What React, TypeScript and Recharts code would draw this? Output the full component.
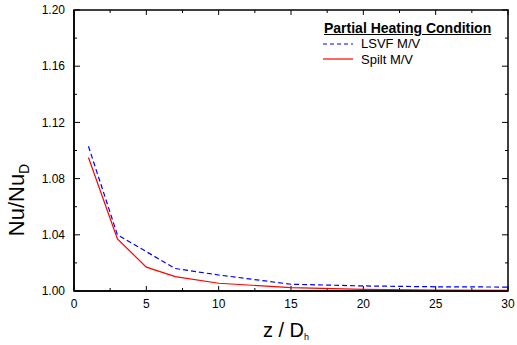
import { Label, Line, LineChart, ReferenceArea, ReferenceLine, XAxis, YAxis } from "recharts";

// z / Dh positions
const zValues = [1, 3, 5, 7, 10, 15, 20, 25, 30];
// Nu/NuD for each configuration
const lsvfValues = [1.103, 1.04, 1.028, 1.016, 1.0114, 1.0048, 1.0036, 1.003, 1.0028];
const splitValues = [1.095, 1.037, 1.017, 1.0102, 1.0055, 1.0024, 1.0012, 1.0007, 1.0005];

const xMajor = [0, 5, 10, 15, 20, 25, 30];
const xMinor = [2.5, 7.5, 12.5, 17.5, 22.5, 27.5];
const yMajor = [1.0, 1.04, 1.08, 1.12, 1.16, 1.2];
const yMinor = [1.02, 1.06, 1.1, 1.14, 1.18];

const legendTitle = "Partial Heating Condition";
const seriesNames = ["LSVF M/V", "Spilt M/V"];
const seriesColors = ["#0000ff", "#ff0000"];

const data = zValues.map((z, i) => ({
  z,
  lsvf: lsvfValues[i],
  split: splitValues[i],
}));

const FONT = "'Liberation Sans', Arial, sans-serif";
const W = 517;
const H = 345;
const MARGIN = { top: 10, right: 9, bottom: 0, left: 0 };
const Y_AXIS_W = 74;
const X_AXIS_H = 54;
const X_DOMAIN: [number, number] = [0, 30];
const Y_DOMAIN: [number, number] = [1.0, 1.2];
const tickStyle = { fill: "#000", fontSize: 12, fontFamily: FONT };
const frame = { stroke: "#000", strokeWidth: 1.5 };

// plot box, same numbers the chart lays itself out with
const box = {
  left: MARGIN.left + Y_AXIS_W,
  right: W - MARGIN.right,
  top: MARGIN.top,
  bottom: H - MARGIN.bottom - X_AXIS_H,
};
// one pixel in data units, for tick lengths
const pxX = (X_DOMAIN[1] - X_DOMAIN[0]) / (box.right - box.left);
const pxY = (Y_DOMAIN[1] - Y_DOMAIN[0]) / (box.bottom - box.top);

// inward tick segments on all four sides, in data units
const tickSegs: { x: number; y: number }[][] = [];
const addX = (vals: number[], len: number) =>
  vals.forEach((v) => {
    tickSegs.push([{ x: v, y: Y_DOMAIN[0] }, { x: v, y: Y_DOMAIN[0] + len * pxY }]);
    tickSegs.push([{ x: v, y: Y_DOMAIN[1] }, { x: v, y: Y_DOMAIN[1] - len * pxY }]);
  });
const addY = (vals: number[], len: number) =>
  vals.forEach((v) => {
    tickSegs.push([{ x: X_DOMAIN[0], y: v }, { x: X_DOMAIN[0] + len * pxX, y: v }]);
    tickSegs.push([{ x: X_DOMAIN[1], y: v }, { x: X_DOMAIN[1] - len * pxX, y: v }]);
  });
addX(xMajor, 5);
addX(xMinor, 3);
addY(yMajor, 6);
addY(yMinor, 3);

const LegendBox = () => (
  <div style={{ position: "absolute", left: 324, top: 20, width: 190, fontFamily: FONT, color: "#000" }}>
    <div
      style={{
        fontSize: 14,
        fontWeight: "bold",
        textDecoration: "underline",
        lineHeight: "16px",
        whiteSpace: "nowrap",
      }}
    >
      {legendTitle}
    </div>
    {seriesNames.map((name, i) => (
      <div key={name} style={{ display: "flex", alignItems: "center", height: 15.5, marginLeft: -1 }}>
        <svg width={38} height={10}>
          <path
            d="M0,5H30"
            stroke={seriesColors[i]}
            strokeWidth={1.2}
            strokeDasharray={i === 0 ? "4 3" : undefined}
          />
        </svg>
        <span style={{ fontSize: 13, lineHeight: "15px" }}>{name}</span>
      </div>
    ))}
  </div>
);

export default function App() {
  return (
    <div style={{ position: "absolute", left: 0, top: 0, width: W, height: H }}>
      <LineChart width={W} height={H} data={data} margin={MARGIN}>
        <XAxis
          dataKey="z"
          type="number"
          domain={X_DOMAIN}
          ticks={xMajor}
          interval={0}
          tickSize={0}
          tickMargin={8}
          tickLine={false}
          axisLine={frame}
          tick={tickStyle}
          height={X_AXIS_H}
          allowDataOverflow
        >
          <Label
            content={() => (
              <text x={286} y={337} textAnchor="middle" fontSize={20} fontFamily={FONT} fill="#000">
                z / D
                <tspan fontSize={9} dy={3}>
                  h
                </tspan>
              </text>
            )}
          />
        </XAxis>
        <YAxis
          type="number"
          domain={Y_DOMAIN}
          ticks={yMajor}
          interval={0}
          tickSize={0}
          tickMargin={9}
          tickLine={false}
          axisLine={frame}
          tick={tickStyle}
          tickFormatter={(v: number) => v.toFixed(2)}
          width={Y_AXIS_W}
          allowDataOverflow
        >
          <Label
            content={() => (
              <text
                transform="translate(24,200) rotate(-90)"
                textAnchor="middle"
                fontSize={22}
                fontFamily={FONT}
                fill="#000"
              >
                Nu/Nu
                <tspan fontSize={14} dy={5}>
                  D
                </tspan>
              </text>
            )}
          />
        </YAxis>
        <ReferenceArea
          x1={X_DOMAIN[0]}
          x2={X_DOMAIN[1]}
          y1={Y_DOMAIN[0]}
          y2={Y_DOMAIN[1]}
          stroke="#000"
          strokeWidth={1.5}
          fill="none"
          fillOpacity={0}
          ifOverflow="visible"
        />
        {tickSegs.map((seg, i) => (
          <ReferenceLine key={i} segment={seg} stroke="#000" strokeWidth={1} ifOverflow="visible" />
        ))}
        <Line
          type="linear"
          dataKey="split"
          stroke={seriesColors[1]}
          strokeWidth={1.2}
          dot={false}
          isAnimationActive={false}
        />
        <Line
          type="linear"
          dataKey="lsvf"
          stroke={seriesColors[0]}
          strokeWidth={1.2}
          strokeDasharray="5 3"
          dot={false}
          isAnimationActive={false}
        />
      </LineChart>
      <LegendBox />
    </div>
  );
}
